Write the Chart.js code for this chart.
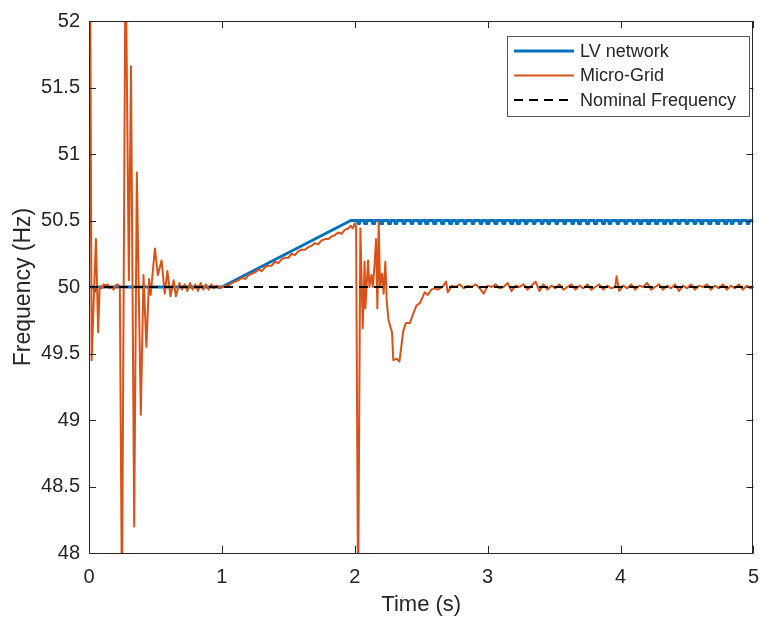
<!DOCTYPE html>
<html>
<head>
<meta charset="utf-8">
<script src="https://cdn.jsdelivr.net/npm/chart.js@4.4.0/dist/chart.umd.min.js"></script>
<style>
  html, body { margin: 0; padding: 0; background: #fff; }
</style>
</head>
<body>
<canvas id="freq-chart" width="771" height="619"></canvas>
<script>
// --- Data ---
const xTicks = [0, 1, 2, 3, 4, 5];
const yTicks = [48, 48.5, 49, 49.5, 50, 50.5, 51, 51.5, 52];

// LV network: flat, ramp, then flat with small notches
const lvTime = [0, 0.03, 0.045, 0.06, 1.0, 1.97, 5.0];
const lvFreq = [50, 50, 49.97, 50, 50, 50.5, 50.5];
const lvNotchTimes = [2.03, 2.08, 2.14, 2.20, 2.26, 2.31, 2.37, 2.43, 2.49, 2.54, 2.60, 2.66, 2.72,
    2.77, 2.83, 2.89, 2.95, 3.00, 3.06, 3.12, 3.18, 3.23, 3.29, 3.35, 3.41, 3.46, 3.52, 3.58, 3.64,
    3.69, 3.75, 3.81, 3.87, 3.92, 3.98, 4.04, 4.10, 4.15, 4.21, 4.27, 4.33, 4.38, 4.44, 4.50, 4.56,
    4.61, 4.67, 4.73, 4.79, 4.84, 4.90, 4.96];
const lvNotchFreq = 50.478;

// Micro-Grid
const microTime = [
    0, 0.008, 0.02, 0.052, 0.069, 0.08, 0.095, 0.11, 0.125, 0.14, 0.155, 0.17, 0.185, 0.2, 0.215, 0.232,
    0.248, 0.275, 0.30, 0.316, 0.34, 0.36, 0.39, 0.41, 0.432, 0.452, 0.464, 0.496, 0.518, 0.546, 0.57,
    0.59, 0.613, 0.637, 0.654, 0.68, 0.70, 0.72, 0.74, 0.76, 0.78, 0.80, 0.82, 0.84, 0.86, 0.88, 0.90,
    0.92, 0.94, 0.96, 0.98, 1.0,
    1.025, 1.05, 1.075, 1.1, 1.125, 1.15, 1.175, 1.2, 1.225, 1.25, 1.275, 1.3, 1.325, 1.35, 1.375, 1.4,
    1.425, 1.45, 1.475, 1.5, 1.525, 1.55, 1.575, 1.6, 1.625, 1.65, 1.675, 1.7, 1.725, 1.75, 1.775, 1.8,
    1.825, 1.85, 1.875, 1.9, 1.925, 1.95, 1.97, 1.985, 2.0, 2.01,
    2.025, 2.042, 2.06, 2.074, 2.08, 2.10, 2.11, 2.126, 2.136, 2.15, 2.16, 2.17, 2.18, 2.19, 2.205,
    2.217, 2.23, 2.24, 2.254, 2.28, 2.29, 2.316, 2.336, 2.365, 2.385, 2.415, 2.44, 2.464, 2.49, 2.513,
    2.526, 2.55, 2.575, 2.6, 2.625, 2.66, 2.687,
    2.70, 2.73, 2.76, 2.79, 2.82, 2.85, 2.88, 2.91, 2.94, 2.97, 3.00, 3.03, 3.06, 3.09, 3.12, 3.15,
    3.18, 3.21, 3.24, 3.27, 3.30, 3.33, 3.36, 3.39, 3.42, 3.45, 3.48, 3.51, 3.54, 3.57, 3.60, 3.63,
    3.66, 3.69, 3.72, 3.75, 3.78, 3.81, 3.84, 3.87, 3.90, 3.93, 3.96, 3.97, 3.99, 4.02, 4.05, 4.08,
    4.11, 4.14, 4.17, 4.20, 4.23, 4.26, 4.29, 4.32, 4.35, 4.38, 4.41, 4.44, 4.47, 4.50, 4.53, 4.56,
    4.59, 4.62, 4.65, 4.68, 4.71, 4.74, 4.77, 4.80, 4.83, 4.86, 4.89, 4.92, 4.95, 4.98, 5.00
];
const microFreq = [
    50, 52.6, 49.45, 50.36, 49.66, 50, 49.99, 50.02, 50.01, 50.02, 49.99, 50, 49.98, 50.01, 50.02, 50,
    47.6, 52.6, 50.05, 51.66, 48.2, 50.86, 49.04, 50.09, 49.55, 50.06, 49.94, 50.29, 50.09, 50.2, 49.95,
    50.12, 49.93, 50.05, 49.93, 50.03, 49.98, 50.02, 49.97, 50.03, 49.98, 50.02, 49.97, 50.03, 49.98, 50.02, 49.98,
    50.02, 49.99, 50.01, 49.99, 50,
    50.01, 50.01, 50.03, 50.04, 50.05, 50.07, 50.06, 50.09, 50.10, 50.11, 50.13, 50.12, 50.15, 50.16, 50.16, 50.19,
    50.18, 50.21, 50.22, 50.22, 50.25, 50.24, 50.27, 50.28, 50.28, 50.30, 50.31, 50.33, 50.32, 50.35, 50.36, 50.36,
    50.38, 50.39, 50.41, 50.40, 50.43, 50.44, 50.46, 50.44, 50.48, 50.45,
    47.6, 50.44, 49.69, 50.19, 49.84, 50.2, 50.0, 50.09, 50.0, 50.19, 50.36, 49.84, 50.49, 50.0, 50.1,
    49.95, 50.19, 49.9, 49.75, 49.66, 49.45, 49.46, 49.44, 49.67, 49.73, 49.73, 49.8, 49.86, 49.88, 49.93,
    49.96, 49.94, 49.98, 49.99, 49.98, 50.0, 50.04,
    49.96, 50.01, 50.0, 50.02, 49.99, 50.01, 50.0, 50.02, 49.99, 49.95, 50.01, 50.0, 50.02, 49.99, 50.0, 50.03,
    49.97, 50.01, 50.0, 50.02, 49.98, 50.01, 50.04, 49.97, 50.02, 49.98, 50.01, 49.99, 50.02, 49.98, 50.0, 50.02,
    49.98, 50.01, 49.99, 50.02, 49.98, 50.0, 50.02, 49.98, 50.01, 49.99, 50.0, 50.08, 49.97, 50.01, 49.99, 50.02,
    49.98, 50.01, 50.0, 50.03, 49.98, 50.0, 50.02, 49.98, 50.01, 49.99, 50.02, 49.97, 50.01, 49.99, 50.02, 49.98,
    50.01, 50.0, 50.02, 49.98, 50.01, 49.99, 50.02, 49.98, 50.01, 49.99, 50.02, 49.98, 50.01, 49.99, 50.01
];

const nominalTime = [0, 5];
const nominalFreq = [50, 50];

// --- Build point lists for Chart.js ---
function toPoints(xs, ys) {
    return xs.map((x, i) => ({ x: x, y: ys[i] }));
}

function lvPoints() {
    const pts = toPoints(lvTime, lvFreq).filter(p => p.x <= 1.97);
    lvNotchTimes.forEach(t => {
        pts.push({ x: t - 0.01, y: 50.5 });
        pts.push({ x: t - 0.006, y: lvNotchFreq });
        pts.push({ x: t + 0.006, y: lvNotchFreq });
        pts.push({ x: t + 0.01, y: 50.5 });
    });
    pts.push({ x: 5, y: 50.5 });
    return pts;
}

const FONT = "'Liberation Sans', Arial, Helvetica, sans-serif";
const INK = '#262626';

// box, inward ticks and legend drawn like the MATLAB axes
const matlabAxes = {
    id: 'matlabAxes',
    afterDatasetsDraw(chart) {
        const { ctx, chartArea: a, scales: { x, y } } = chart;
        ctx.save();
        ctx.strokeStyle = INK;
        ctx.lineWidth = 1;
        ctx.beginPath();
        xTicks.forEach(v => {
            const px = Math.round(x.getPixelForValue(v)) + 0.5;
            ctx.moveTo(px, a.bottom); ctx.lineTo(px, a.bottom - 7);
            ctx.moveTo(px, a.top); ctx.lineTo(px, a.top + 7);
        });
        yTicks.forEach(v => {
            const py = Math.round(y.getPixelForValue(v)) + 0.5;
            ctx.moveTo(a.left, py); ctx.lineTo(a.left + 7, py);
            ctx.moveTo(a.right, py); ctx.lineTo(a.right - 7, py);
        });
        ctx.stroke();
        ctx.strokeRect(Math.round(a.left) + 0.5, Math.round(a.top) + 0.5,
            Math.round(a.right - a.left) - 1, Math.round(a.bottom - a.top));

        // legend
        const lx = 507, ly = 36, lw = 242, lh = 80;
        ctx.fillStyle = '#fff';
        ctx.fillRect(lx, ly, lw, lh);
        ctx.strokeStyle = '#5a5a5a';
        ctx.strokeRect(lx + 0.5, ly + 0.5, lw, lh);
        chart.data.datasets.forEach((ds, i) => {
            const rowY = ly + 15 + i * 24.5;
            ctx.beginPath();
            ctx.strokeStyle = ds.borderColor;
            ctx.lineWidth = ds.borderWidth;
            ctx.setLineDash(ds.borderDash || []);
            ctx.moveTo(514, rowY); ctx.lineTo(574, rowY);
            ctx.stroke();
            ctx.setLineDash([]);
            ctx.fillStyle = INK;
            ctx.font = '18px ' + FONT;
            ctx.textBaseline = 'middle';
            ctx.textAlign = 'left';
            ctx.fillText(ds.label, 580, rowY + 1);
        });
        ctx.restore();
    }
};

new Chart(document.getElementById('freq-chart'), {
    type: 'line',
    data: {
        datasets: [
            {
                label: 'LV network',
                data: lvPoints(),
                borderColor: '#0072BD',
                borderWidth: 3,
                order: 3
            },
            {
                label: 'Micro-Grid',
                data: toPoints(microTime, microFreq),
                borderColor: '#D95319',
                borderWidth: 2,
                order: 2
            },
            {
                label: 'Nominal Frequency',
                data: toPoints(nominalTime, nominalFreq),
                borderColor: '#000000',
                borderWidth: 2,
                borderDash: [9, 6],
                order: 1
            }
        ]
    },
    options: {
        responsive: false,
        animation: false,
        devicePixelRatio: 1,
        datasets: {
            line: { pointRadius: 0, tension: 0, clip: 0, fill: false, borderJoinStyle: 'round' }
        },
        layout: { padding: { left: 0, right: 7, top: 20, bottom: 0 } },
        plugins: { legend: { display: false }, tooltip: { enabled: false } },
        scales: {
            x: {
                type: 'linear',
                min: 0,
                max: 5,
                afterBuildTicks: s => { s.ticks = xTicks.map(v => ({ value: v })); },
                afterFit: s => { s.height = 66; },
                grid: { display: false, drawTicks: false },
                border: { display: false },
                ticks: {
                    color: INK, font: { family: FONT, size: 20 }, padding: 12, maxRotation: 0,
                    callback: v => String(v)
                },
                title: {
                    display: true,
                    text: 'Time (s)',
                    color: INK,
                    font: { family: FONT, size: 22 },
                    padding: { top: 0, bottom: 1 }
                }
            },
            y: {
                min: 48,
                max: 52,
                afterBuildTicks: s => { s.ticks = yTicks.map(v => ({ value: v })); },
                afterFit: s => { s.width = 89; },
                grid: { display: false, drawTicks: false },
                border: { display: false },
                ticks: {
                    color: INK, font: { family: FONT, size: 20 }, padding: 9,
                    callback: v => String(v)
                },
                title: {
                    display: true,
                    text: 'Frequency (Hz)',
                    color: INK,
                    font: { family: FONT, size: 23 },
                    padding: { top: 10, bottom: 0 }
                }
            }
        }
    },
    plugins: [matlabAxes]
});
</script>
</body>
</html>
